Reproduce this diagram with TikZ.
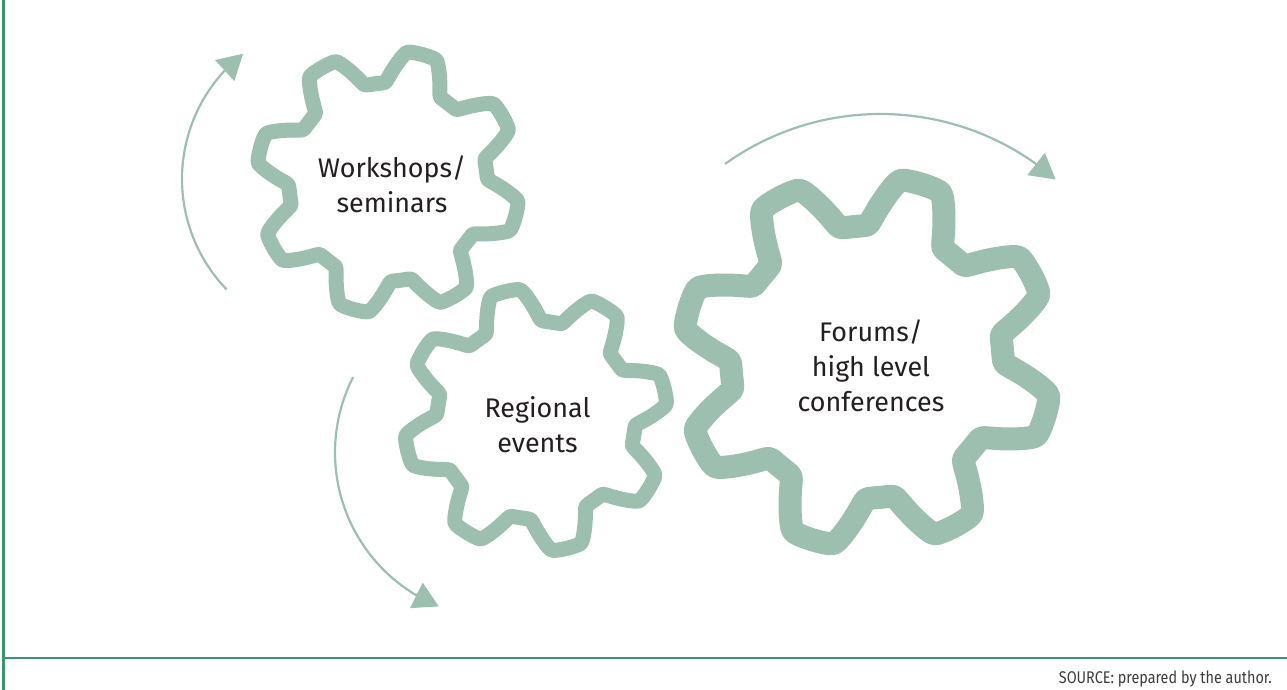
\documentclass[tikz,border=0pt]{standalone}
\usepackage{fontspec}
\setmainfont{Fira Sans}
\newfontfamily\srcfont[FakeStretch=0.85]{Fira Sans}
\usetikzlibrary{arrows.meta,bending}
\definecolor{gearcol}{RGB}{157,191,176}
\definecolor{framecol}{RGB}{58,150,112}
\definecolor{txtcol}{RGB}{35,31,32}
\definecolor{srccol}{RGB}{60,60,60}
\begin{document}
\begin{tikzpicture}[x=1bp,y=1bp,
  gearline/.style={draw=gearcol, line join=round, line cap=round},
  geartext/.style={text=txtcol, align=center, inner sep=0pt, font=\fontsize{27}{35}\selectfont},
  turn/.style={draw=gearcol, line width=2.2bp, -{Triangle[length=25bp,width=28bp,flex]}},
  frameline/.style={draw=framecol, line width=2bp},
  declare function={sc(\x)=(sqrt((\x+1)*(\x+1)+0.04)-sqrt((\x-1)*(\x-1)+0.04))/2;
                    gp(\u)=sc(2.4*(asin(cos(\u))/90+0.028));
                    gr(\t,\v,\h,\p)=\v+(\h-\v)*(gp(8*(\t-\p))+0.99555)/1.99165;}
]
\useasboundingbox (0,0) rectangle (1287,690);

% frame
\coordinate (ftop) at (3.5,690);
\coordinate (fbot) at (3.5,0);
\coordinate (hl) at (3.5,32);
\coordinate (hr) at (1287,32);
\draw[frameline] (ftop) -- (fbot);
\draw[frameline] (hl) -- (hr);

% gears
\coordinate (g1) at (388,508);
\coordinate (g2) at (536,270);
\coordinate (g3) at (867,328);
\draw[gearline, line width=15bp, shift={(g1)}]
  plot[domain=0:360, samples=720, variable=\t] (\t:{gr(\t,99,132,75)}) -- cycle;
\draw[gearline, line width=15bp, shift={(g2)}]
  plot[domain=0:360, samples=720, variable=\t] (\t:{gr(\t,99,132,103.5)}) -- cycle;
\draw[gearline, line width=23bp, shift={(g3)}]
  plot[domain=0:360, samples=720, variable=\t] (\t:{gr(\t,136,186,73)}) -- cycle;

% labels
\node[geartext] (ws) at (392,506) {Workshops/\\seminars};
\node[geartext] (re) at (537.5,265.5) {Regional\\events};
\node[geartext] (fo) at (871,324) {Forums/\\high level\\conferences};

% rotation arrows
\coordinate (a1) at (341,511);
\coordinate (a2) at (501,237.5);
\coordinate (a3) at (880.5,309);
\draw[turn] ([shift={(224:159)}]a1) arc[start angle=224, end angle=128, radius=159];
\draw[turn] ([shift={(153:166)}]a2) arc[start angle=153, end angle=248, radius=166];
\draw[turn] ([shift={(125.6:267)}]a3) arc[start angle=125.6, end angle=49, radius=267];

% source
\node[anchor=base east, text=srccol, inner sep=0pt, font=\srcfont\fontsize{17}{20}\selectfont] (src) at (1272,6.7) {SOURCE: prepared by the author.};
\end{tikzpicture}
\end{document}
